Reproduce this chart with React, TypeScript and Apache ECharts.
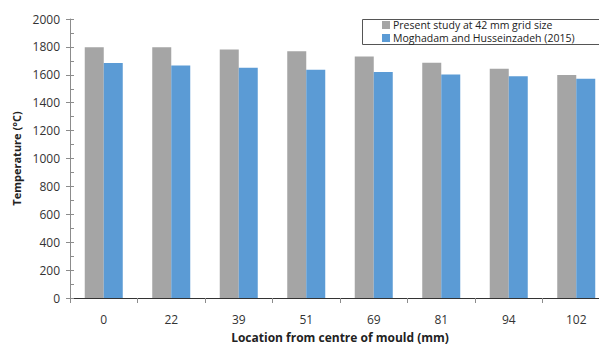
import React, { useEffect, useRef } from "react";
import * as echarts from "echarts";

// Distances from the mould centre (mm)
const locations = ["0", "22", "39", "51", "69", "81", "94", "102"];
// Temperatures (°C)
const presentStudy = [1798, 1797, 1782, 1768, 1732, 1687, 1644, 1599];
const moghadam = [1684, 1667, 1651, 1637, 1620, 1603, 1589, 1572];
const seriesNames = [
  "Present study at 42 mm grid size",
  "Moghadam and Husseinzadeh (2015)",
];

const FONT = "'Open Sans', 'Noto Sans', sans-serif";

export default function App() {
  const ref = useRef<HTMLDivElement>(null);

  useEffect(() => {
    if (!ref.current) return;
    const chart = echarts.init(ref.current, undefined, { renderer: "svg" });
    chart.setOption({
      animation: false,
      backgroundColor: "#ffffff",
      textStyle: { fontFamily: FONT },
      // the plot area runs past the right edge of the canvas
      grid: {
        left: 70,
        top: 19,
        width: 540,
        height: 279,
        containLabel: false,
        outerBoundsMode: "none",
      },
      legend: {
        orient: "vertical",
        left: 382,
        top: 19,
        itemWidth: 8,
        itemHeight: 8,
        itemGap: 1,
        padding: [0, 0, 0, 0],
        icon: "rect",
        textStyle: {
          fontFamily: FONT,
          fontSize: 10.5,
          lineHeight: 12,
          color: "#222",
          padding: [0, 0, 0, -2],
        },
        data: seriesNames,
      },
      graphic: [
        {
          type: "rect",
          x: 362.5,
          y: 19.5,
          shape: { x: 0, y: 0, width: 300, height: 25 },
          style: { fill: "#ffffff", stroke: "#555555", lineWidth: 1 },
          z: -1,
        },
      ],
      xAxis: [
        {
          type: "category",
          data: locations,
          axisLine: { lineStyle: { color: "#8c8c8c", width: 1 } },
          axisTick: { show: true, length: 5, alignWithLabel: false, lineStyle: { color: "#8c8c8c" } },
          axisLabel: { fontSize: 12, color: "#333", margin: 15, fontFamily: FONT },
          name: "Location from centre of mould (mm)",
          nameLocation: "middle",
          nameGap: 32,
          nameTextStyle: {
            fontSize: 12,
            lineHeight: 14,
            fontWeight: "bold",
            color: "#222",
            fontFamily: FONT,
          },
        },
        {
          type: "category",
          data: locations,
          position: "top",
          axisLine: { show: true, lineStyle: { color: "#333", width: 1 } },
          axisTick: { show: false },
          axisLabel: { show: false },
        },
      ],
      yAxis: [
        {
          type: "value",
          min: 0,
          max: 2000,
          interval: 200,
          axisLine: { show: true, lineStyle: { color: "#8c8c8c", width: 1 } },
          axisTick: { show: true, length: 4, lineStyle: { color: "#8c8c8c" } },
          splitLine: { show: false },
          axisLabel: {
            fontSize: 12,
            color: "#333",
            margin: 10,
            fontFamily: FONT,
            formatter: (v: number) => String(v),
          },
          name: "Temperature (°C)",
          nameLocation: "middle",
          nameGap: 46,
          nameRotate: 90,
          nameTextStyle: { fontSize: 11, fontWeight: "bold", color: "#222", fontFamily: FONT },
        },
        {
          type: "value",
          min: 0,
          max: 2000,
          interval: 100,
          position: "left",
          axisLine: { show: false },
          axisTick: { show: true, inside: true, length: 4, lineStyle: { color: "#8c8c8c" } },
          axisLabel: { show: false },
          splitLine: { show: false },
        },
      ],
      series: [
        {
          name: seriesNames[0],
          type: "bar",
          data: presentStudy,
          barWidth: 19,
          barGap: "0%",
          itemStyle: { color: "#a5a5a5" },
        },
        {
          name: seriesNames[1],
          type: "bar",
          data: moghadam,
          barWidth: 19,
          barGap: "0%",
          itemStyle: { color: "#5b9bd5" },
        },
      ],
    });
    return () => chart.dispose();
  }, []);

  return (
    <div
      ref={ref}
      style={{ position: "fixed", left: 0, top: 0, width: 599, height: 345 }}
    />
  );
}
